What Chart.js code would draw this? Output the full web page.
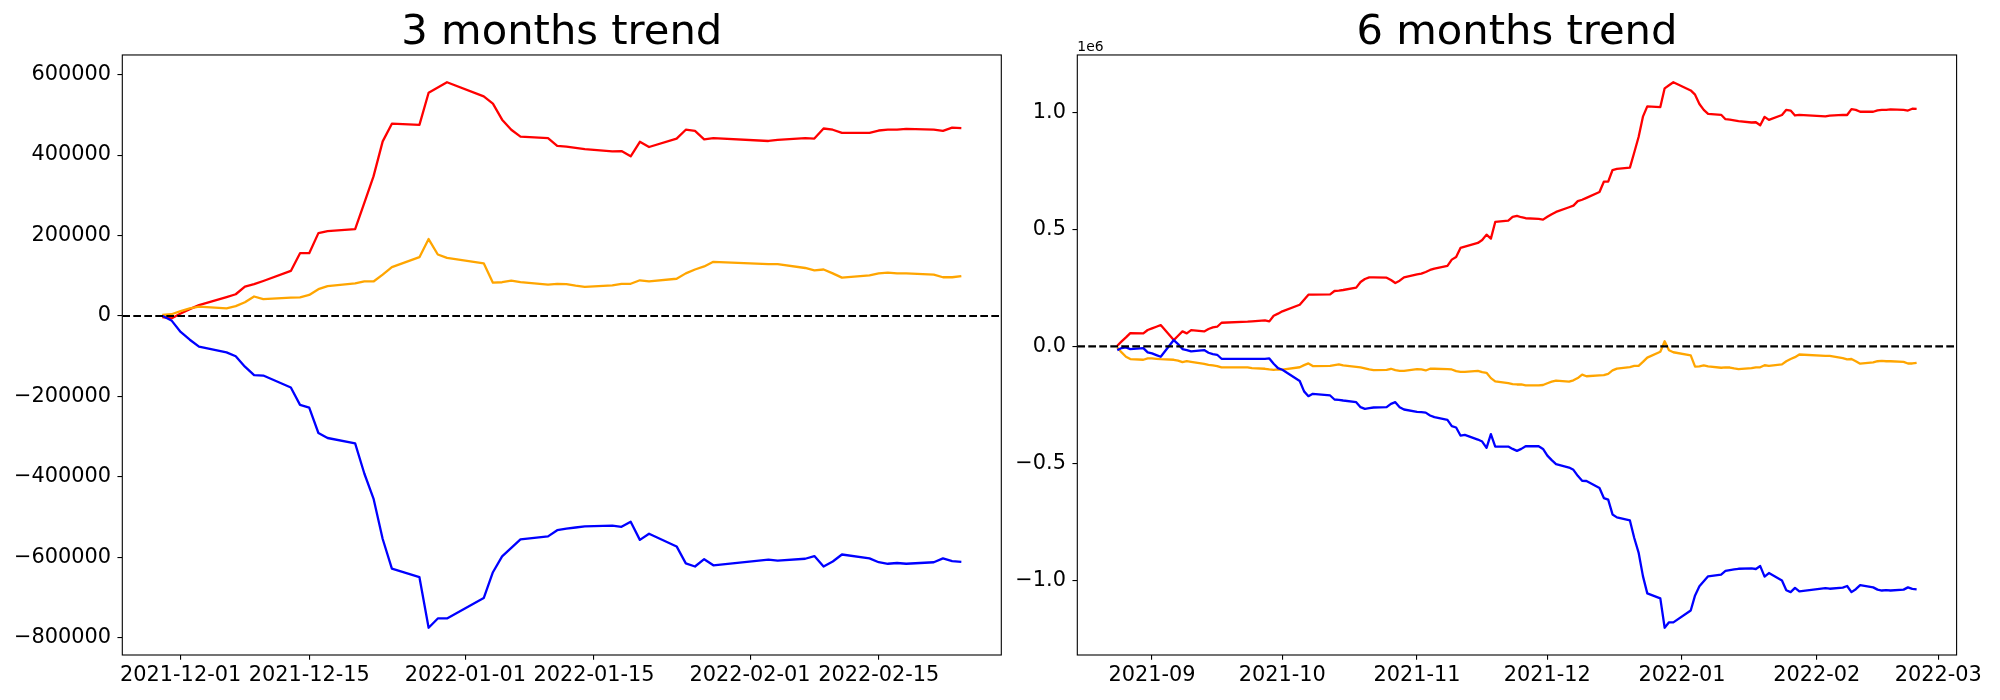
<!DOCTYPE html>
<html><head><meta charset="utf-8">
<script src="https://cdn.jsdelivr.net/npm/chart.js@4.4.0/dist/chart.umd.min.js"></script>
<style>
html,body{margin:0;padding:0;background:#fff;width:2000px;height:700px;overflow:hidden;}
canvas{position:absolute;top:0;}
#c3{left:0;} #c6{left:1004px;}
</style></head><body>
<canvas id="c3" width="1004" height="700"></canvas>
<canvas id="c6" width="996" height="700"></canvas>
<script>
// ---------- DATA ----------
const dates6 = [
 '2021-08-24','2021-08-25','2021-08-26','2021-08-27','2021-08-30','2021-08-31',
 '2021-09-01','2021-09-02','2021-09-03','2021-09-06','2021-09-07','2021-09-08','2021-09-09','2021-09-10','2021-09-13','2021-09-14','2021-09-15','2021-09-16','2021-09-17','2021-09-23','2021-09-24','2021-09-27','2021-09-28','2021-09-29','2021-09-30',
 '2021-10-01','2021-10-05','2021-10-06','2021-10-07','2021-10-08','2021-10-12','2021-10-13','2021-10-14','2021-10-15','2021-10-18','2021-10-19','2021-10-20','2021-10-21','2021-10-22','2021-10-25','2021-10-26','2021-10-27','2021-10-28','2021-10-29',
 '2021-11-01','2021-11-02','2021-11-03','2021-11-04','2021-11-05','2021-11-08','2021-11-09','2021-11-10','2021-11-11','2021-11-12','2021-11-15','2021-11-16','2021-11-17','2021-11-18','2021-11-19','2021-11-22','2021-11-23','2021-11-24','2021-11-25','2021-11-26','2021-11-29','2021-11-30',
 '2021-12-01','2021-12-02','2021-12-03','2021-12-06','2021-12-07','2021-12-08','2021-12-09','2021-12-10','2021-12-13','2021-12-14','2021-12-15','2021-12-16','2021-12-17','2021-12-20','2021-12-21','2021-12-22','2021-12-23','2021-12-24','2021-12-27','2021-12-28','2021-12-29','2021-12-30',
 '2022-01-03','2022-01-04','2022-01-05','2022-01-06','2022-01-07','2022-01-10','2022-01-11','2022-01-12','2022-01-13','2022-01-14','2022-01-17','2022-01-18','2022-01-19','2022-01-20','2022-01-21','2022-01-24','2022-01-25','2022-01-26','2022-01-27','2022-01-28',
 '2022-02-03','2022-02-04','2022-02-07','2022-02-08','2022-02-09','2022-02-10','2022-02-11','2022-02-14','2022-02-15','2022-02-16','2022-02-17','2022-02-18','2022-02-21','2022-02-22','2022-02-23','2022-02-24'
];
const red6 = [
 2900,21400,38500,57000,55600,70000,
 77000,84100,91300,27100,45600,64200,55600,69900,64200,74200,81300,84100,101200,105500,107000,111200,107000,131200,140000,
 150000,178000,199600,221000,221000,222500,236700,238100,241000,251000,275200,288100,295200,295200,293800,283800,270900,280900,295200,
 308000,310900,318000,326600,332300,343700,370800,382200,420700,426400,442100,454900,477700,460600,531900,537600,553300,557600,551900,547600,544600,541600,
 553600,564600,574600,594600,601600,620600,626600,634600,659600,703600,703600,753600,758600,763600,828600,894600,981600,1025600,1022600,1102600,1115600,1128600,
 1093600,1075600,1035600,1010600,993600,989600,970600,968600,965600,962600,956600,957600,944600,980600,967600,988600,1010600,1007600,986600,989600,
 982600,985600,989600,988600,1013600,1010600,1002600,1002600,1008600,1010600,1010600,1012600,1010600,1007600,1015600,1014600
];
const orange6 = [
 -4300,-25700,-44200,-54200,-57000,-51300,
 -51300,-52800,-54200,-57000,-61000,-67000,-62700,-65600,-74200,-78400,-81300,-84100,-89800,-89800,-92700,-95500,-98400,-99800,-98400,
 -99000,-89000,-80000,-72700,-84100,-82700,-79900,-77000,-81300,-87000,-89800,-94100,-98400,-101200,-99800,-95500,-101200,-104100,-104100,
 -97000,-98400,-102700,-95500,-95500,-97000,-98400,-105500,-108400,-108400,-104100,-109800,-112700,-135500,-149700,-156900,-161100,-162600,-162600,-166800,-166800,-164900,
 -157200,-150500,-145700,-150500,-144800,-135200,-120800,-127500,-123700,-122700,-117000,-102600,-94900,-88200,-83400,-83400,-66200,-47900,-23000,22000,-16300,-24900,
 -38400,-86300,-85300,-81500,-85300,-91100,-89200,-90100,-94000,-96800,-93000,-89200,-89200,-80500,-83400,-76700,-63300,-53700,-46000,-34500,
 -40300,-40300,-49900,-55600,-53700,-63300,-73800,-68100,-63300,-61400,-63300,-63300,-66200,-72900,-72900,-70000
];
const blue6 = [
 -15700,-7100,-4300,-11400,-7100,-25700,
 -30000,-37100,-44200,27100,10000,-11400,-15700,-21400,-15700,-27100,-32800,-35700,-52800,-52800,-52800,-52800,-51300,-74200,-92700,
 -99800,-148000,-192000,-212500,-202500,-209600,-226700,-228200,-231000,-238100,-259500,-266700,-263800,-261000,-259500,-245300,-238100,-259500,-269500,
 -279500,-280900,-283000,-295200,-302300,-313700,-340800,-346500,-380700,-377900,-397900,-406400,-433500,-375000,-427800,-427800,-437800,-446300,-437800,-426400,-426400,-437900,
 -466700,-485900,-503100,-517500,-527100,-552900,-574000,-575000,-604700,-647800,-654500,-717800,-730200,-743600,-818400,-880700,-981300,-1055100,-1076200,-1201800,-1178800,-1178800,
 -1128000,-1063800,-1024500,-1003400,-982300,-974700,-959400,-955500,-952700,-949900,-947900,-950900,-938400,-983400,-968100,-999700,-1041900,-1049600,-1031400,-1046700,
 -1032300,-1035200,-1030400,-1023700,-1049600,-1037100,-1019800,-1029400,-1039000,-1042800,-1040900,-1042800,-1039000,-1029400,-1036100,-1038000
];

// 3-month window starts on 2021-11-29
const dates3 = dates6.slice(dates6.indexOf('2021-11-29'));
const red3 = [
 -3000,-6000,
 6000,17000,27000,47000,54000,73000,79000,87000,112000,156000,156000,206000,211000,216000,281000,347000,434000,478000,475000,555000,568000,581000,
 546000,528000,488000,463000,446000,442000,423000,421000,418000,415000,409000,410000,397000,433000,420000,441000,463000,460000,439000,442000,
 435000,438000,442000,441000,466000,463000,455000,455000,461000,463000,463000,465000,463000,460000,468000,467000
];
const orange3 = [
 2400,4300,
 12000,18700,23500,18700,24400,34000,48400,41700,45500,46500,52200,66600,74300,81000,85800,85800,103000,121300,146200,191200,152900,144300,
 130800,82900,83900,87700,83900,78100,80000,79100,75200,72400,76200,80000,80000,88700,85800,92500,105900,115500,123200,134700,
 128900,128900,119300,113600,115500,105900,95400,101100,105900,107800,105900,105900,103000,96300,96300,99200
];
const blue3 = [
 500,-11000,
 -39800,-59000,-76200,-90600,-100200,-126000,-147100,-148100,-177800,-220900,-227600,-290900,-303300,-316700,-391500,-453800,-554400,-628200,-649300,-774900,-751900,-751900,
 -701100,-636900,-597600,-576500,-555400,-547800,-532500,-528600,-525800,-523000,-521000,-524000,-511500,-556500,-541200,-572800,-615000,-622700,-604500,-619800,
 -605400,-608300,-603500,-596800,-622700,-610200,-592900,-602500,-612100,-615900,-614000,-615900,-612100,-602500,-609200,-611100
];

const xTicks3 = ['2021-12-01','2021-12-15','2022-01-01','2022-01-15','2022-02-01','2022-02-15'];
const xTicks6 = ['2021-09','2021-10','2021-11','2021-12','2022-01','2022-02','2022-03'];
const yTicks3 = [-800000,-600000,-400000,-200000,0,200000,400000,600000];
const yTicks6 = [-1000000,-500000,0,500000,1000000];

// ---------- RENDERING ----------
const FONT = "'DejaVu Sans'";
const MINUS = '\u2212';
function toDay(s){ const p = s.split('-').map(Number); return Date.UTC(p[0], p[1]-1, p[2]||1)/86400000; }
function fmtInt(v){ return (v<0?MINUS:'') + Math.abs(Math.round(v)).toString(); }
function fmtE6(v){ const t=(Math.abs(v)/1e6).toFixed(1); return (v<0?MINUS:'')+t; }

const framePlugin = {
  id:'frame',
  afterDraw(chart, args, opts){
    const {ctx, chartArea:a} = chart;
    ctx.save();
    ctx.strokeStyle='#000'; ctx.lineWidth=1.1;
    ctx.strokeRect(a.left, a.top, a.right-a.left, a.bottom-a.top);
    if (opts && opts.offsetText){
      ctx.font = '13.9px ' + FONT; ctx.fillStyle='#000';
      ctx.textAlign='left'; ctx.textBaseline='alphabetic';
      ctx.fillText(opts.offsetText, a.left, a.top-4);
    }
    ctx.restore();
  }
};

function makeChart(id, title, dates, red, orange, blue, xTickLabels, yTicks, yFmt, yWidth, padRight, offsetText){
  const xs = dates.map(toDay);
  const x0 = xs[0], x1 = xs[xs.length-1];
  const xmin = x0 - 0.05*(x1-x0), xmax = x1 + 0.05*(x1-x0);
  const all = red.concat(orange, blue);
  const lo = Math.min(...all), hi = Math.max(...all);
  const ymin = lo - 0.05*(hi-lo), ymax = hi + 0.05*(hi-lo);
  const pts = arr => arr.map((v,i)=>({x:xs[i], y:v}));
  const xTickVals = xTickLabels.map(toDay);
  const LW = 2.3;
  const line = (data,color,w)=>({data, borderColor:color, backgroundColor:color, borderWidth:w||LW, pointRadius:0, fill:false, tension:0, borderJoinStyle:'round'});
  const gridOpt = {drawOnChartArea:false, drawTicks:true, tickLength:4.86, color:'#000', lineWidth:1.1};
  const tickFont = {family:FONT, size:20.83, lineHeight:1.2};
  return new Chart(document.getElementById(id), {
    type:'line',
    data:{datasets:[
      Object.assign(line([{x:xmin,y:0},{x:xmax,y:0}], '#000000', 2.1), {borderDash:[7.7,3.3]}),
      line(pts(blue), '#0000ff'),
      line(pts(orange), '#ffa500'),
      line(pts(red), '#ff0000')
    ]},
    options:{
      responsive:false, animation:false, events:[],
      layout:{padding:{left:0, right:padRight, top:0, bottom:0}},
      plugins:{
        legend:{display:false}, tooltip:{enabled:false},
        title:{display:true, text:title, fullSize:false, color:'#000',
               font:{family:FONT, size:41.67, weight:'normal', lineHeight:1},
               padding:{top:12.7, bottom:0.6}},
        frame:{offsetText:offsetText}
      },
      scales:{
        x:{type:'linear', min:xmin, max:xmax,
           afterFit:s=>{s.height=45;},
           afterBuildTicks:s=>{s.ticks = xTickVals.map(v=>({value:v}));},
           grid:gridOpt, border:{display:false},
           ticks:{autoSkip:false, maxRotation:0, minRotation:0, padding:3, color:'#000', font:tickFont,
                  callback:(v,i)=>xTickLabels[i]}},
        y:{type:'linear', min:ymin, max:ymax,
           afterFit:s=>{s.width=yWidth;},
           afterBuildTicks:s=>{s.ticks = yTicks.map(v=>({value:v}));},
           grid:gridOpt, border:{display:false},
           ticks:{padding:6.5, color:'#000', font:tickFont, callback:v=>yFmt(v)}}
      }
    },
    plugins:[framePlugin]
  });
}

makeChart('c3', '3 months trend', dates3, red3, orange3, blue3, xTicks3, yTicks3, fmtInt, 122.3, 1004-1001.3, null);
makeChart('c6', '6 months trend', dates6, red6, orange6, blue6, xTicks6, yTicks6, fmtE6, 1077.3-1004, 996-952.6, '1e6');
</script>
</body></html>
